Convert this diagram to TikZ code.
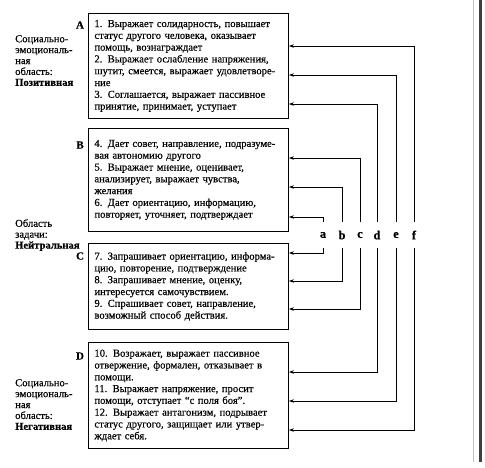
\documentclass[tikz,border=0pt]{standalone}
\usepackage{fontspec}
\setmainfont{Liberation Serif}[FakeBold=0.35]
\usetikzlibrary{arrows.meta}
\begin{document}
\begin{tikzpicture}[x=1pt,y=-1pt,
  catbox/.style={draw,line width=0.9pt,minimum width=200pt,inner xsep=6pt,inner ysep=0pt,
    text width=188pt,align=left,font=\fontsize{10.6}{11.8}\selectfont,anchor=north west},
  side/.style={align=left,anchor=north west,inner sep=0pt,font=\fontsize{10.6}{10.9}\selectfont},
  grp/.style={font=\bfseries\fontsize{11}{12}\selectfont,inner sep=0pt},
  ltr/.style={font=\bfseries\fontsize{12.5}{12}\selectfont,inner sep=0pt,minimum height=26pt},
  arr/.style={line width=0.7pt,-{Stealth[length=5pt,width=3.5pt]}}]
\useasboundingbox (0,0) rectangle (485,467);
% scan border at the right
\draw[gray!50,line width=0.6pt] (473,0) -- (473,462);
\draw[black!75,line width=2.5pt] (480.5,0) -- (480.5,462);
% boxes
\node[catbox,minimum height=105pt] (bA) at (88,13) {1. Выражает солидарность, повышает\\статус другого человека, оказывает\\помощь, вознаграждает\\2. Выражает ослабление напряжения,\\шутит, смеется, выражает удовлетворе-\\ние\\3. Соглашается, выражает пассивное\\принятие, принимает, уступает};
\node[catbox,minimum height=103pt] (bB) at (88,128) {4. Дает совет, направление, подразуме-\\вая автономию другого\\5. Выражает мнение, оценивает,\\анализирует, выражает чувства,\\желания\\6. Дает ориентацию, информацию,\\повторяет, уточняет, подтверждает};
\node[catbox,minimum height=86pt] (bC) at (88,243) {7. Запрашивает ориентацию, информа-\\цию, повторение, подтверждение\\8. Запрашивает мнение, оценку,\\интересуется самочувствием.\\9. Спрашивает совет, направление,\\возможный способ действия.};
\node[catbox,minimum height=106pt] (bD) at (88,342) {10. Возражает, выражает пассивное\\отвержение, формален, отказывает в\\помощи.\\11. Выражает напряжение, просит\\помощи, отступает “с поля боя”.\\12. Выражает антагонизм, подрывает\\статус другого, защищает или утвер-\\ждает себя.};
% group letters
\node[grp] (gA) at (80,25) {A};
\node[grp] (gB) at (80,145) {B};
\node[grp] (gC) at (80,256) {C};
\node[grp] (gD) at (80,356) {D};
% side labels
\node[side] (sA) at (15,35) {Социально-\\эмоциональ-\\ная\\область:\\\textbf{Позитивная}};
\node[side] (sB) at (15,219) {Область\\задачи:\\\textbf{Нейтральная}};
\node[side] (sD) at (15,379) {Социально-\\эмоциональ-\\ная\\область:\\\textbf{Негативная}};
% category letters
\node[ltr] (a) at (323,235) {a};
\node[ltr] (b) at (342,235) {b};
\node[ltr] (c) at (360,235) {c};
\node[ltr] (d) at (377,235) {d};
\node[ltr] (e) at (396,235) {e};
\node[ltr] (f) at (414,235) {f};
% connectors
\draw[arr] (f.north) |- (bA.east |- 0,46);
\draw[arr] (e.north) |- (bA.east |- 0,75);
\draw[arr] (d.north) |- (bA.east |- 0,104);
\draw[arr] (c.north) |- (bB.east |- 0,158);
\draw[arr] (b.north) |- (bB.east |- 0,187);
\draw[arr] (a.north) |- (bB.east |- 0,217);
\draw[arr] (a.south) |- (bC.east |- 0,253);
\draw[arr] (b.south) |- (bC.east |- 0,281);
\draw[arr] (c.south) |- (bC.east |- 0,309);
\draw[arr] (d.south) |- (bD.east |- 0,372);
\draw[arr] (e.south) |- (bD.east |- 0,401);
\draw[arr] (f.south) |- (bD.east |- 0,430);
\end{tikzpicture}
\end{document}
